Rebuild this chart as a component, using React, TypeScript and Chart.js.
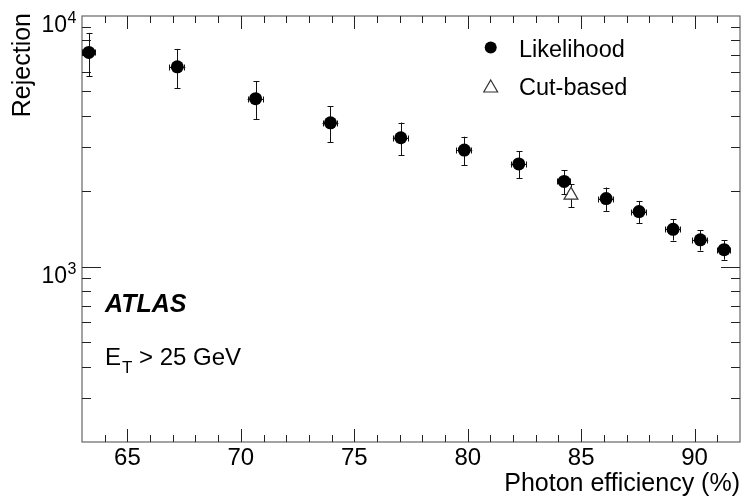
import React, { useEffect, useRef } from "react";
import { Chart, registerables } from "chart.js";

Chart.register(...registerables);

// Likelihood-based identification: photon efficiency (%) vs background rejection
const effLikelihood = [63.3, 67.2, 70.65, 73.95, 77.05, 79.85, 82.25, 84.25, 86.1, 87.55, 89.05, 90.25, 91.3];
const effErrLikelihood = [0.3, 0.35, 0.35, 0.35, 0.35, 0.35, 0.35, 0.3, 0.35, 0.35, 0.35, 0.35, 0.3];
const rejLikelihood = [7160, 6270, 4680, 3750, 3270, 2920, 2570, 2190, 1870, 1660, 1410, 1280, 1170];
const rejErrLikelihood = [1400, 1120, 810, 610, 490, 380, 320, 240, 200, 170, 138, 120, 103];

// Cut-based identification
const effCutBased = [84.55];
const effErrCutBased = [0.3];
const rejCutBased = [1930];
const rejErrCutBased = [200];

// Axes
const xRange = [63, 92];
const xMajorTicks = [65, 70, 75, 80, 85, 90];
const yRange = [200, 10000];
const yMajorTicks = [1000, 10000];
const yMajorExponents = ["3", "4"];

const legendLabels = ["Likelihood", "Cut-based"];
const FONT = "'Liberation Sans', Arial, Helvetica, sans-serif";
const TRI_R = 8;

function drawErrors(
  ctx: CanvasRenderingContext2D,
  xs: number[], dxs: number[], ys: number[], dys: number[],
  xScale: any, yScale: any, gapUp: number, gapDown: number, gapSide: number
) {
  ctx.save();
  ctx.strokeStyle = "#111";
  ctx.lineWidth = 1;
  for (let i = 0; i < xs.length; i++) {
    const px = xScale.getPixelForValue(xs[i]);
    const py = yScale.getPixelForValue(ys[i]);
    const left = xScale.getPixelForValue(xs[i] - dxs[i]);
    const right = xScale.getPixelForValue(xs[i] + dxs[i]);
    const top = yScale.getPixelForValue(ys[i] + dys[i]);
    const bottom = yScale.getPixelForValue(ys[i] - dys[i]);
    const cx = Math.round(px) + 0.5;
    const cy = Math.round(py) + 0.5;
    ctx.beginPath();
    // vertical bar with caps
    if (top < py - gapUp) {
      ctx.moveTo(cx, top);
      ctx.lineTo(cx, py - gapUp);
    }
    if (bottom > py + gapDown) {
      ctx.moveTo(cx, py + gapDown);
      ctx.lineTo(cx, bottom);
    }
    ctx.moveTo(cx - 3, Math.round(top) + 0.5);
    ctx.lineTo(cx + 3, Math.round(top) + 0.5);
    ctx.moveTo(cx - 3, Math.round(bottom) + 0.5);
    ctx.lineTo(cx + 3, Math.round(bottom) + 0.5);
    // horizontal bar with caps
    if (left < px - gapSide) {
      ctx.moveTo(left, cy);
      ctx.lineTo(px - gapSide, cy);
      ctx.moveTo(Math.round(left) + 0.5, cy - 3);
      ctx.lineTo(Math.round(left) + 0.5, cy + 3);
    }
    if (right > px + gapSide) {
      ctx.moveTo(px + gapSide, cy);
      ctx.lineTo(right, cy);
      ctx.moveTo(Math.round(right) - 0.5, cy - 3);
      ctx.lineTo(Math.round(right) - 0.5, cy + 3);
    }
    ctx.stroke();
  }
  ctx.restore();
}

const framePlugin = {
  id: "frameAndDecorations",
  beforeDatasetsDraw(chart: any) {
    const { ctx, chartArea, scales } = chart;
    const xs = scales.x;
    const ys = scales.y;
    const { left, right, top, bottom } = chartArea;
    ctx.save();
    // frame
    ctx.strokeStyle = "#666";
    ctx.lineWidth = 1.2;
    ctx.strokeRect(left, top, right - left, bottom - top);

    // ticks
    ctx.strokeStyle = "#222";
    ctx.lineWidth = 1;
    ctx.beginPath();
    for (let v = Math.ceil(xRange[0]); v <= xRange[1]; v++) {
      if (v <= xRange[0] || v >= xRange[1]) continue;
      const major = xMajorTicks.includes(v);
      const len = major ? 13 : 7;
      const px = Math.round(xs.getPixelForValue(v)) + 0.5;
      ctx.moveTo(px, bottom);
      ctx.lineTo(px, bottom - len);
      ctx.moveTo(px, top);
      ctx.lineTo(px, top + len);
    }
    for (let d = 100; d <= yRange[1]; d *= 10) {
      for (let m = 1; m <= 9; m++) {
        const v = m * d;
        if (v <= yRange[0] || v >= yRange[1]) continue;
        const major = yMajorTicks.includes(v);
        const len = major ? 19 : 9;
        const py = Math.round(ys.getPixelForValue(v)) + 0.5;
        ctx.moveTo(left, py);
        ctx.lineTo(left + len, py);
        ctx.moveTo(right, py);
        ctx.lineTo(right - len, py);
      }
    }
    ctx.stroke();

    // tick labels
    ctx.fillStyle = "#000";
    ctx.font = `24px ${FONT}`;
    ctx.textAlign = "center";
    ctx.textBaseline = "alphabetic";
    xMajorTicks.forEach((v) => {
      ctx.fillText(String(v), xs.getPixelForValue(v), 465);
    });
    yMajorTicks.forEach((v, i) => {
      const py = ys.getPixelForValue(v);
      ctx.font = `23px ${FONT}`;
      ctx.textAlign = "right";
      ctx.fillText("10", 67, py + 16);
      ctx.font = `16px ${FONT}`;
      ctx.textAlign = "left";
      ctx.fillText(yMajorExponents[i], 67.5, py + 7);
    });

    // axis titles
    ctx.font = `25px ${FONT}`;
    ctx.textAlign = "right";
    ctx.fillText("Photon efficiency (%)", 740, 491);
    ctx.save();
    ctx.translate(30, 13);
    ctx.rotate(-Math.PI / 2);
    ctx.textAlign = "right";
    ctx.fillText("Rejection", 0, 0);
    ctx.restore();
    ctx.restore();

    // error bars
    drawErrors(ctx, effLikelihood, effErrLikelihood, rejLikelihood, rejErrLikelihood, xs, ys, 0, 0, 0);
    drawErrors(ctx, effCutBased, effErrCutBased, rejCutBased, rejErrCutBased, xs, ys, TRI_R, TRI_R / 2, 7);
  },
  afterDraw(chart: any) {
    const { ctx } = chart;
    ctx.save();
    ctx.fillStyle = "#000";
    ctx.textBaseline = "alphabetic";
    ctx.textAlign = "left";

    // legend
    ctx.beginPath();
    ctx.arc(490.7, 47.5, 6, 0, Math.PI * 2);
    ctx.fill();
    ctx.strokeStyle = "#333";
    ctx.lineWidth = 1.2;
    ctx.beginPath();
    const tx = 490.7;
    const ty = 88;
    for (let k = 0; k < 3; k++) {
      const a = (k * 2 * Math.PI) / 3;
      const vx = tx + Math.sin(a) * TRI_R;
      const vy = ty - Math.cos(a) * TRI_R;
      if (k === 0) ctx.moveTo(vx, vy);
      else ctx.lineTo(vx, vy);
    }
    ctx.closePath();
    ctx.stroke();
    ctx.font = `23.5px ${FONT}`;
    ctx.fillText(legendLabels[0], 519, 57);
    ctx.fillText(legendLabels[1], 519, 95);

    // labels
    ctx.font = `italic bold 25px ${FONT}`;
    ctx.fillText("ATLAS", 105, 312);
    ctx.font = `24px ${FONT}`;
    ctx.fillText("E", 105, 365);
    ctx.font = `17px ${FONT}`;
    ctx.fillText("T", 122, 373);
    ctx.font = `24px ${FONT}`;
    ctx.fillText("> 25 GeV", 139, 365);
    ctx.restore();
  },
};

export default function App() {
  const canvasRef = useRef<HTMLCanvasElement | null>(null);

  useEffect(() => {
    const canvas = canvasRef.current;
    if (!canvas) return;
    const chart = new Chart(canvas, {
      type: "scatter",
      data: {
        datasets: [
          {
            label: legendLabels[0],
            data: effLikelihood.map((x, i) => ({ x, y: rejLikelihood[i] })),
            pointStyle: "circle",
            pointRadius: 6.5,
            backgroundColor: "#000",
            borderColor: "#000",
            borderWidth: 0,
          },
          {
            label: legendLabels[1],
            data: effCutBased.map((x, i) => ({ x, y: rejCutBased[i] })),
            pointStyle: "triangle",
            pointRadius: TRI_R,
            backgroundColor: "rgba(0,0,0,0)",
            borderColor: "#333",
            borderWidth: 1.2,
          },
        ],
      },
      options: {
        animation: false,
        responsive: false,
        devicePixelRatio: 1,
        events: [],
        clip: false as any,
        layout: { autoPadding: false, padding: { left: 82, right: 3, top: 16, bottom: 57 } },
        scales: {
          x: { type: "linear", min: xRange[0], max: xRange[1], display: false },
          y: { type: "logarithmic", min: yRange[0], max: yRange[1], display: false },
        },
        plugins: {
          legend: { display: false },
          tooltip: { enabled: false },
        },
      },
      plugins: [framePlugin],
    });
    return () => chart.destroy();
  }, []);

  return (
    <div style={{ position: "absolute", left: 0, top: 0, width: 743, height: 499, background: "#fff" }}>
      <canvas ref={canvasRef} width={743} height={499} />
    </div>
  );
}
